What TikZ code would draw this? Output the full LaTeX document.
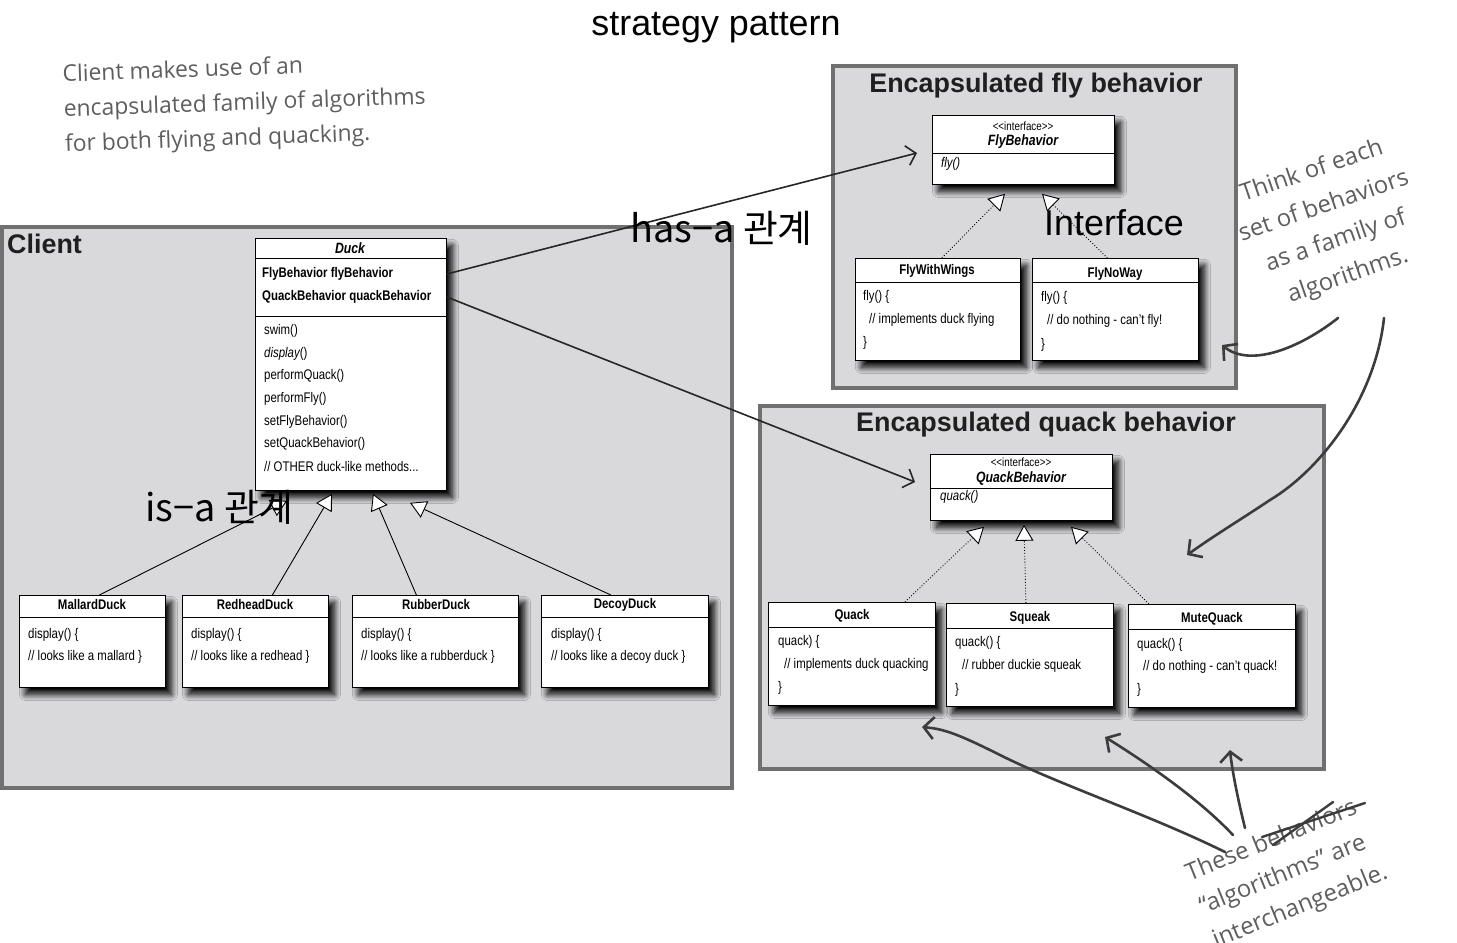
\documentclass[tikz,border=0pt]{standalone}
\usepackage{fontspec}
\setmainfont{Liberation Sans}
\newfontfamily\umlf[FakeStretch=0.82]{Liberation Sans}
\newfontfamily\krf{Noto Sans CJK KR}
\newfontfamily\handf{Open Sans}
\usetikzlibrary{arrows.meta,shadows.blur,calc}
\definecolor{panelfill}{HTML}{D9D9DC}
\definecolor{panelline}{HTML}{707070}
\definecolor{handink}{HTML}{3C3C3C}
\definecolor{handtext}{HTML}{5E5E5E}
\begin{document}
\begin{tikzpicture}[x=1bp,y=-1bp,
  panel/.style={draw=panelline, fill=panelfill, line width=4bp},
  cls/.style={draw=black, fill=white, line width=0.8bp, rectangle, inner sep=0pt, anchor=north west,
    blur shadow={shadow xshift=6bp, shadow yshift=-7bp, shadow blur steps=14, shadow opacity=100, shadow blur radius=6bp}},
  umlt/.style={font=\umlf\fontsize{14}{15}\selectfont, anchor=west, inner sep=0pt},
  umlb/.style={font=\umlf\bfseries\fontsize{14}{15}\selectfont, anchor=center, inner sep=0pt},
  umlbw/.style={umlb, anchor=west},
  umlbi/.style={font=\umlf\bfseries\itshape\fontsize{15}{16}\selectfont, anchor=center, inner sep=0pt},
  umli/.style={font=\umlf\itshape\fontsize{14}{15}\selectfont, anchor=west, inner sep=0pt},
  stereo/.style={font=\umlf\fontsize{12}{13}\selectfont, anchor=center, inner sep=0pt},
  ptitle/.style={font=\bfseries\fontsize{27}{30}\selectfont, text=black!88, inner sep=0pt},
  bigtext/.style={font=\fontsize{36}{40}\selectfont, inner sep=0pt},
  kortext/.style={font=\krf\fontsize{38}{42}\selectfont, inner sep=0pt, anchor=west},
  handnote/.style={font=\handf\fontsize{23}{35}\selectfont, text=handtext, inner sep=0pt},
  inh/.style={line width=0.9bp, -{Triangle[open, fill=white, length=16bp, width=18bp, line width=0.9bp]}},
  real/.style={inh, dotted},
  hasa/.style={line width=1.6bp, draw=black!85, -{Straight Barb[length=9bp, width=20bp, line width=1.6bp]}},
  hand/.style={draw=handink, line width=2.6bp, line cap=round, line join=round,
    -{Straight Barb[length=10bp, width=22bp, line width=2.6bp]}}
]
\useasboundingbox (0,0) rectangle (1457,942);

% panels
\draw[panel] (2,227) rectangle (732,788);
\draw[panel] (833,66) rectangle (1236,388);
\draw[panel] (760,406) rectangle (1324,769);

\node[ptitle, anchor=west] (clientT) at (7,244) {Client};
\node[ptitle] (flyT) at (1036,86) {Encapsulated fly behavior};
\node[ptitle] (quackT) at (1046,425) {Encapsulated quack behavior};

% title
\node[bigtext] (title) at (716,28) {strategy pattern};

% ---------- class boxes ----------
\node[cls, minimum width=191bp, minimum height=252bp] (duck) at (255,238) {};
\node[cls, minimum width=146bp, minimum height=92bp] (mallard) at (19,595) {};
\node[cls, minimum width=146bp, minimum height=92bp] (redhead) at (182,595) {};
\node[cls, minimum width=166bp, minimum height=92bp] (rubber) at (352,595) {};
\node[cls, minimum width=167bp, minimum height=92bp] (decoy) at (541,595) {};

\node[cls, minimum width=182bp, minimum height=69bp] (flyi) at (932,115) {};
\node[cls, minimum width=165bp, minimum height=102bp] (fww) at (855,258) {};
\node[cls, minimum width=166bp, minimum height=102bp] (fnw) at (1032,258) {};

\node[cls, minimum width=182bp, minimum height=66bp] (quacki) at (930,454) {};
\node[cls, minimum width=167bp, minimum height=103bp] (quack) at (768,602) {};
\node[cls, minimum width=167bp, minimum height=103bp] (squeak) at (946,603) {};
\node[cls, minimum width=167bp, minimum height=103bp] (mute) at (1128,604) {};

% dividers
\foreach \n/\d in {duck/20, duck/78, mallard/22, redhead/22, rubber/22, decoy/22,
                   flyi/38, fww/24, fnw/24, quacki/34, quack/25, squeak/25, mute/25}{
  \draw[line width=0.8bp] ([shift={(0,\d)}]\n.north west) -- ([shift={(0,\d)}]\n.north east);
}

% Duck texts
\node[umlbi] at (350,248) {Duck};
\node[umlbw] at (262,274) {FlyBehavior flyBehavior};
\node[umlbw] at (262,297) {QuackBehavior quackBehavior};
\node[umlt] at (264,331) {swim()};
\node[umlt] at (264,354) {\itshape display\upshape()};
\node[umlt] at (264,376) {performQuack()};
\node[umlt] at (264,399) {performFly()};
\node[umlt] at (264,422) {setFlyBehavior()};
\node[umlt] at (264,444) {setQuackBehavior()};
\node[umlt] at (264,467) {// OTHER duck-like methods...};

% subclasses
\node[umlb] at (92,605) {MallardDuck};
\node[umlt] at (28,635) {display() \{};
\node[umlt] at (28,657) {// looks like a mallard \}};
\node[umlb] at (255,605) {RedheadDuck};
\node[umlt] at (191,635) {display() \{};
\node[umlt] at (191,657) {// looks like a redhead \}};
\node[umlb] at (436,605) {RubberDuck};
\node[umlt] at (361,635) {display() \{};
\node[umlt] at (361,657) {// looks like a rubberduck \}};
\node[umlb] at (625,605) {DecoyDuck};
\node[umlt] at (551,635) {display() \{};
\node[umlt] at (551,657) {// looks like a decoy duck \}};

% fly classes
\node[stereo] at (1023,126) {<\kern0pt<interface>\kern0pt>};
\node[umlbi] at (1023,142) {FlyBehavior};
\node[umli] at (941,164) {fly()};
\node[umlb] at (937,271) {FlyWithWings};
\node[umlt] at (863,297) {fly() \{};
\node[umlt] at (869,320) {// implements duck flying};
\node[umlt] at (863,343) {\}};
\node[umlb] at (1115,274) {FlyNoWay};
\node[umlt] at (1041,298) {fly() \{};
\node[umlt] at (1047,321) {// do nothing - can’t fly!};
\node[umlt] at (1041,345) {\}};

% quack classes
\node[stereo] at (1021,462) {<\kern0pt<interface>\kern0pt>};
\node[umlbi] at (1021,479) {QuackBehavior};
\node[umli] at (940,497) {quack()};
\node[umlb] at (852,616) {Quack};
\node[umlt] at (778,642) {quack) \{};
\node[umlt] at (784,665) {// implements duck quacking};
\node[umlt] at (778,688) {\}};
\node[umlb] at (1030,618) {Squeak};
\node[umlt] at (955,643) {quack() \{};
\node[umlt] at (962,666) {// rubber duckie squeak};
\node[umlt] at (955,690) {\}};
\node[umlb] at (1212,619) {MuteQuack};
\node[umlt] at (1137,645) {quack() \{};
\node[umlt] at (1143,667) {// do nothing - can’t quack!};
\node[umlt] at (1137,690) {\}};

% ---------- connectors ----------
\draw[inh] ([xshift=7bp]mallard.north) -- ([shift={(32,10)}]duck.south west);
\draw[inh] ([xshift=17bp]redhead.north) -- ([shift={(77,3)}]duck.south west);
\draw[inh] ([xshift=-19bp]rubber.north) -- ([shift={(118,3)}]duck.south west);
\draw[inh] ([xshift=-14bp]decoy.north) -- ([shift={(155,12)}]duck.south west);

\draw[real] ([xshift=4bp]fww.north) -- ([shift={(73,9)}]flyi.south west);
\draw[real] ([xshift=-8bp]fnw.north) -- ([shift={(110,9)}]flyi.south west);

\draw[real] ([xshift=53bp]quack.north) -- ([shift={(54,6)}]quacki.south west);
\draw[real] ([xshift=-4bp]squeak.north) -- ([shift={(94,4)}]quacki.south west);
\draw[real] ([xshift=-63bp]mute.north) -- ([shift={(141,6)}]quacki.south west);

\draw[hasa] ([shift={(0,36)}]duck.north east) -- ([shift={(-15,38)}]flyi.north west);
\draw[hasa] ([shift={(0,59)}]duck.north east) -- ([shift={(-15,28)}]quacki.north west);

% ---------- labels ----------
\node[bigtext] (iface) at (1114,223) {Interface};
\node[kortext] (hasaT) at (630,228) {has−a 관계};
\node[kortext] (isaT) at (145,507) {is−a 관계};

% ---------- handwritten notes ----------
\node[handnote, anchor=north west, align=left, rotate=2] (note1) at (62,64)
  {Client makes use of an\\encapsulated family of algorithms\\for both flying and quacking.};
\node[handnote, align=center, rotate=19, font=\handf\fontsize{24}{37}\selectfont] (note2) at (1330,224)
  {Think of each\\set of behaviors\\as a family of\\algorithms.};
\node[handnote, align=left, rotate=22, font=\handf\fontsize{24}{36}\selectfont] (note3) at (1287,874)
  {These behaviors\\“algorithms” are\\interchangeable.};

% strike through
\draw[handink, line width=2.4bp, line cap=round] (1262,837) -- (1365,803);
\draw[handink, line width=2.4bp, line cap=round] (1273,845) -- (1333,802);

% hand drawn arrows
\draw[hand] (1338,318) .. controls (1300,348) and (1250,368) .. (1222,345);
\draw[hand] (1384,318) .. controls (1375,400) and (1320,470) .. (1270,500)
            .. controls (1240,520) and (1215,535) .. (1187,555);
\draw[hand] (1225,852) .. controls (1150,815) and (1060,785) .. (1000,755)
            .. controls (960,735) and (945,729) .. (922,727);
\draw[hand] (1233,835) .. controls (1200,800) and (1150,765) .. (1105,737);
\draw[hand] (1245,828) .. controls (1238,800) and (1232,770) .. (1230,750);
\end{tikzpicture}
\end{document}
